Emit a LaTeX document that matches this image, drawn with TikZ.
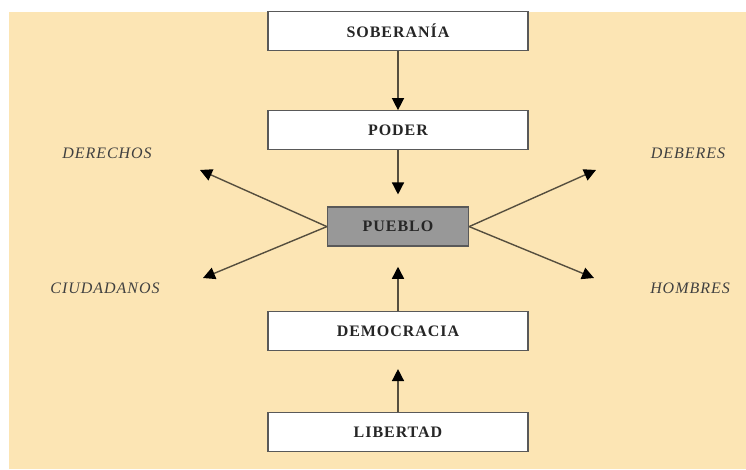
\documentclass[tikz,border=0pt]{standalone}
\usepackage{fontspec}
\setmainfont{Liberation Serif}
\newfontfamily\boxfont[LetterSpace=6]{Liberation Serif}
\usetikzlibrary{positioning,arrows.meta}
\definecolor{beige}{RGB}{252,229,180}
\definecolor{pueblogray}{RGB}{152,152,152}
\definecolor{linegray}{RGB}{85,78,62}

\begin{document}
\begin{tikzpicture}[x=1pt,y=1pt]
\tikzstyle{box}=[rectangle, draw=black!65, line width=1.3pt, fill=white, minimum width=260pt, minimum height=39pt, inner sep=0pt, font=\boxfont\bfseries\fontsize{16}{19}\selectfont, text=black!85]
\tikzstyle{connect}=[-{Triangle[width=12pt,length=12pt,black]}, linegray, line width=1.4pt]
\tikzstyle{word}=[font=\boxfont\itshape\fontsize{16}{19}\selectfont, text=black!75]
  \useasboundingbox (0,0) rectangle (746,-469);
  \fill[beige] (9,-12) rectangle (746,-469);
  \node[box] (soberania) at (398,-31) {SOBERANÍA};
  \node[box] (poder) [below=59pt of soberania] {PODER};
  \node[box, fill=pueblogray, minimum width=141pt] (pueblo) [below=56pt of poder] {PUEBLO};
  \node[box] (democracia) [below=64pt of pueblo] {DEMOCRACIA};
  \node[box] (libertad) [below=61pt of democracia] {LIBERTAD};
  \node[word] (derechos) at (107,-153) {DERECHOS};
  \node[word] (ciudadanos) at (105,-288) {CIUDADANOS};
  \node[word] (deberes) at (688,-153) {DEBERES};
  \node[word] (hombres) at (690,-288) {HOMBRES};
  \coordinate (tipder) at (200,-170);
  \coordinate (tipciu) at (203,-278);
  \coordinate (tipdeb) at (596,-170);
  \coordinate (tiphom) at (594,-278);
  \path (soberania) edge [connect] (poder)
        (poder) edge [connect, shorten >=12pt] (pueblo)
        (democracia) edge [connect, shorten >=20pt] (pueblo)
        (libertad) edge [connect, shorten >=18pt] (democracia)
        (pueblo.west) edge [connect] (tipder)
        (pueblo.west) edge [connect] (tipciu)
        (pueblo.east) edge [connect] (tipdeb)
        (pueblo.east) edge [connect] (tiphom);
\end{tikzpicture}
\end{document}
